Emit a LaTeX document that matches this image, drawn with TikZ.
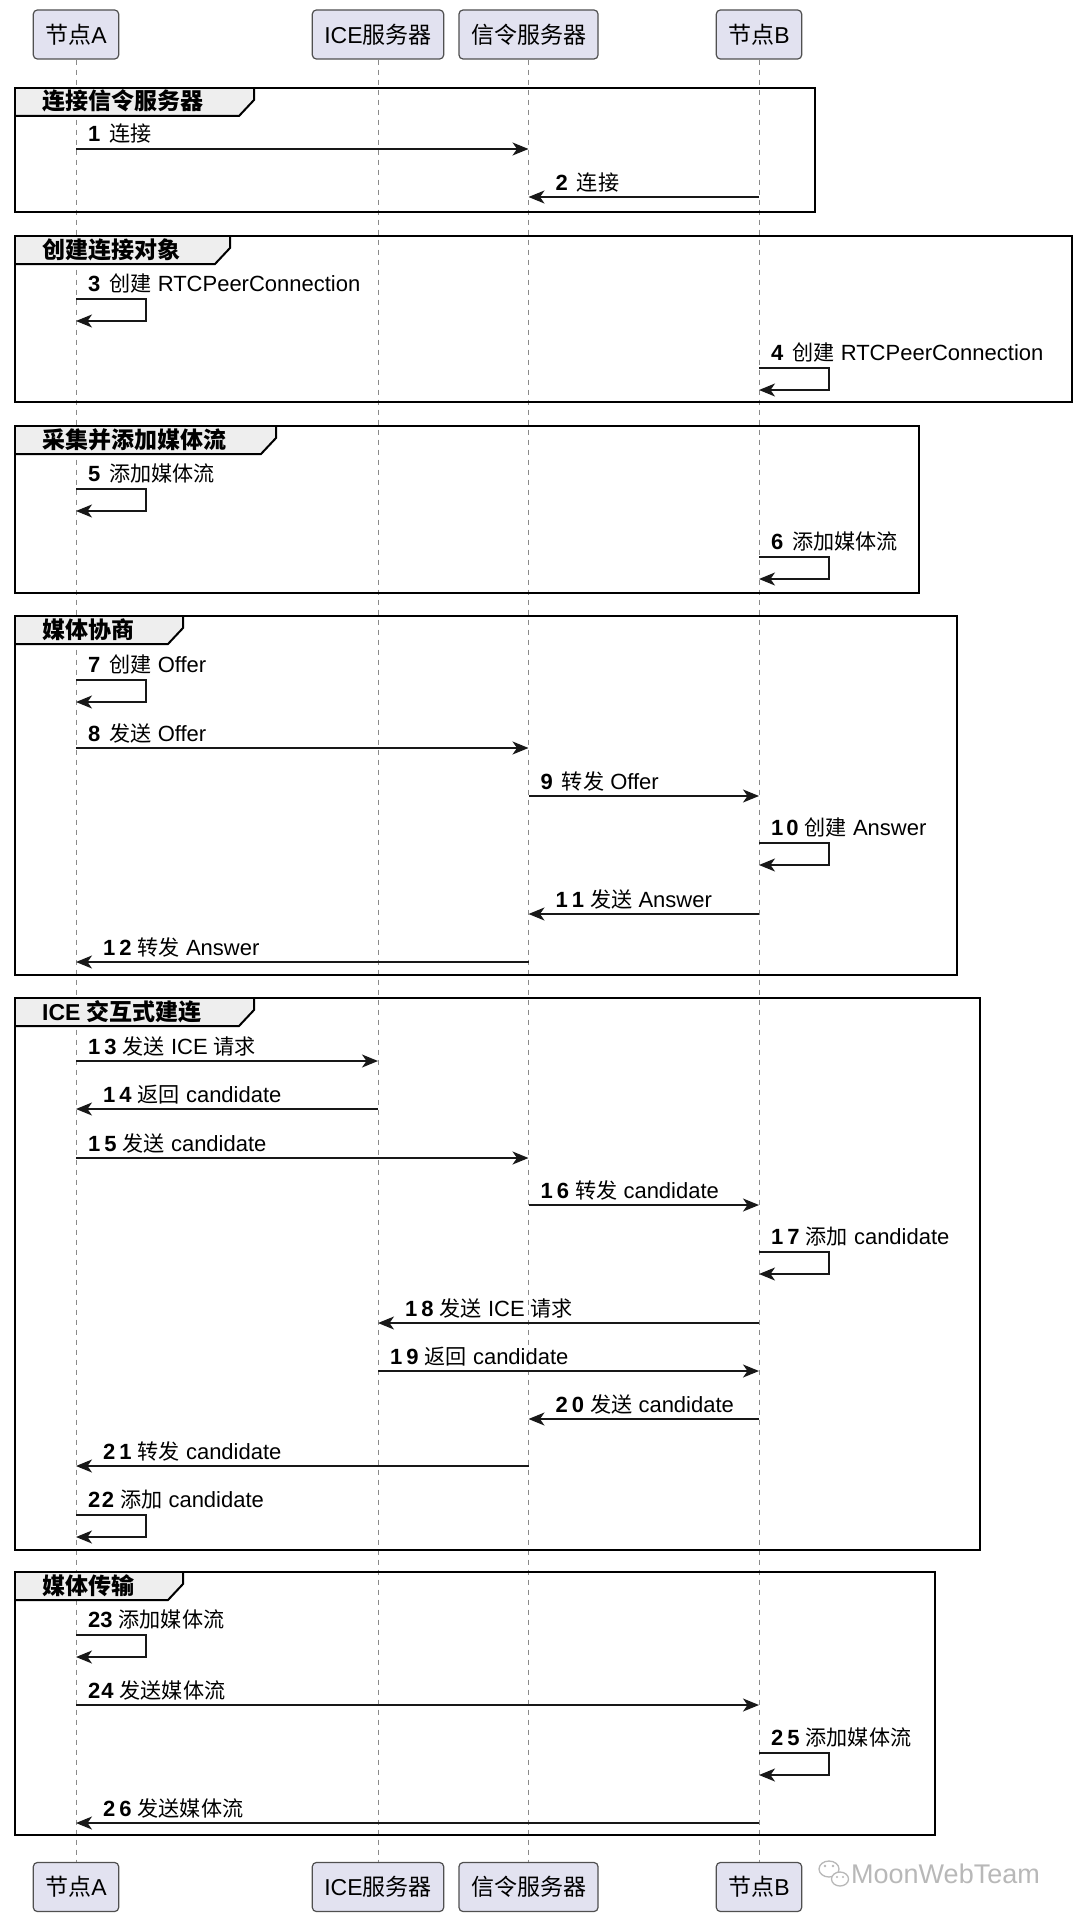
\documentclass[tikz,border=0pt]{standalone}
\usepackage{fontspec}
\setmainfont{Liberation Sans}
\newfontfamily\cjk{Noto Sans CJK SC}
\newfontfamily\cjkm[Scale=0.96]{Noto Sans CJK SC}
\usetikzlibrary{arrows.meta}
\definecolor{partfill}{HTML}{E2E2F0}
\definecolor{ink}{HTML}{181818}
\definecolor{partline}{HTML}{505050}
\definecolor{hdrfill}{HTML}{EEEEEE}
\definecolor{life}{HTML}{8A8A8A}
\definecolor{wm}{HTML}{B8B8B8}
\newcommand\C[1]{{\cjk #1}}
\newcommand\M[1]{{\cjkm #1}}
\newcommand\N[1]{\textbf{#1}\hspace{9pt}}
\newcommand\NN[3]{\textbf{#1\hspace{#3}#2}\hspace{6pt}}
% name, from, to, y, label  (label near the start)
\newcommand\msgR[5]{\draw[msgline] (#2 |- 0,#4) -- (#3 |- 0,#4);
  \node[lbl,xshift=12pt,yshift=7pt] (#1) at (#2 |- 0,#4) {#5};}
% name, from, to, y, label  (label near the arrow head)
\newcommand\msgL[5]{\draw[msgline] (#2 |- 0,#4) -- (#3 |- 0,#4);
  \node[lbl,xshift=27pt,yshift=7pt] (#1) at (#3 |- 0,#4) {#5};}
% name, lifeline node, top y, label
\newcommand\selfm[4]{\draw[msgline] (#2 |- 0,#3) -- ++(70,0) -- ++(0,22) -- ++(-70,0);
  \node[lbl,xshift=12pt,yshift=8pt] (#1) at (#2 |- 0,#3) {#4};}
% name, top, bottom, right, header right, text
\newcommand\frm[6]{%
  \fill[hdrfill] (15,#2) -- (#5,#2) -- (#5,{#2+12}) -- ({#5-15},{#2+28}) -- (15,{#2+28}) -- cycle;
  \draw[hdrline] (15,{#2+28}) -- ({#5-15},{#2+28}) -- (#5,{#2+12}) -- (#5,#2);
  \draw[frameline] (15,#2) rectangle (#4,#3);
  \node[hdrtext] (#1) at (42,{#2+22}) {#6};}
\begin{document}
\begin{tikzpicture}[x=1pt,y=-1pt,
  part/.style={draw=partline,fill=partfill,rounded corners=4pt,line width=1.2pt,
    minimum height=49pt,inner xsep=12pt,inner ysep=0pt,font=\fontsize{23}{26}\selectfont,text=black},
  lifeline/.style={draw=life,line width=1pt,dash pattern=on 5pt off 5pt},
  msgline/.style={draw=ink,line width=1.5pt,-{Stealth[length=16pt,width=13pt,inset=4.5pt]}},
  lbl/.style={anchor=base west,inner sep=0pt,font=\fontsize{22}{26}\selectfont,text=black},
  frameline/.style={draw=black,line width=2.5pt},
  hdrline/.style={draw=black,line width=2pt},
  hdrtext/.style={anchor=base west,inner sep=0pt,font=\bfseries\fontsize{23}{26}\selectfont,text=black},
  wmtext/.style={anchor=west,inner sep=0pt,font=\fontsize{27}{30}\selectfont,text=wm}]
\fill[white] (0,0) rectangle (1080,1921);
\useasboundingbox (0,0) rectangle (1080,1921);

% participants
\node[part] (pA) at (76,34.5) {\C{节点}A};
\node[part] (pI) at (378,34.5) {ICE\C{服务器}};
\node[part] (pS) at (528.5,34.5) {\C{信令服务器}};
\node[part] (pB) at (759,34.5) {\C{节点}B};
\node[part] (qA) at (76,1887) {\C{节点}A};
\node[part] (qI) at (378,1887) {ICE\C{服务器}};
\node[part] (qS) at (528.5,1887) {\C{信令服务器}};
\node[part] (qB) at (759,1887) {\C{节点}B};

% lifelines
\draw[lifeline] (pA.south) -- (qA.north);
\draw[lifeline] (pI.south) -- (qI.north);
\draw[lifeline] (pS.south) -- (qS.north);
\draw[lifeline] (pB.south) -- (qB.north);

% frames
\frm{f1}{88}{212}{815}{254}{\C{连接信令服务器}}
\frm{f2}{236}{402}{1072}{230}{\C{创建连接对象}}
\frm{f3}{426}{593}{919}{276}{\C{采集并添加媒体流}}
\frm{f4}{616}{975}{957}{183}{\C{媒体协商}}
\frm{f5}{998}{1550}{980}{254}{ICE \C{交互式建连}}
\frm{f6}{1572}{1835}{935}{183}{\C{媒体传输}}

% messages
\msgR{m1}{pA}{pS}{149}{\N{1}\M{连接}}
\msgL{m2}{pB}{pS}{197}{\N{2}\M{连接}}
\selfm{m3}{pA}{299}{\N{3}\M{创建} RTCPeerConnection}
\selfm{m4}{pB}{368}{\N{4}\M{创建} RTCPeerConnection}
\selfm{m5}{pA}{489}{\N{5}\M{添加媒体流}}
\selfm{m6}{pB}{557}{\N{6}\M{添加媒体流}}
\selfm{m7}{pA}{680}{\N{7}\M{创建} Offer}
\msgR{m8}{pA}{pS}{748}{\N{8}\M{发送} Offer}
\msgR{m9}{pS}{pB}{796}{\N{9}\M{转发} Offer}
\selfm{m10}{pB}{843}{\NN{1}{0}{3pt}\M{创建} Answer}
\msgL{m11}{pB}{pS}{914}{\NN{1}{1}{4pt}\M{发送} Answer}
\msgL{m12}{pS}{pA}{962}{\NN{1}{2}{4pt}\M{转发} Answer}
\msgR{m13}{pA}{pI}{1061}{\NN{1}{3}{4pt}\M{发送} ICE \M{请求}}
\msgL{m14}{pI}{pA}{1109}{\NN{1}{4}{4pt}\M{返回} candidate}
\msgR{m15}{pA}{pS}{1158}{\NN{1}{5}{4pt}\M{发送} candidate}
\msgR{m16}{pS}{pB}{1205}{\NN{1}{6}{4pt}\M{转发} candidate}
\selfm{m17}{pB}{1252}{\NN{1}{7}{4pt}\M{添加} candidate}
\msgL{m18}{pB}{pI}{1323}{\NN{1}{8}{4pt}\M{发送} ICE \M{请求}}
\msgR{m19}{pI}{pB}{1371}{\NN{1}{9}{4pt}\M{返回} candidate}
\msgL{m20}{pB}{pS}{1419}{\NN{2}{0}{4pt}\M{发送} candidate}
\msgL{m21}{pS}{pA}{1466}{\NN{2}{1}{4pt}\M{转发} candidate}
\selfm{m22}{pA}{1515}{\NN{2}{2}{1.5pt}\M{添加} candidate}
\selfm{m23}{pA}{1635}{\NN{2}{3}{0pt}\M{添加媒体流}}
\msgR{m24}{pA}{pB}{1705}{\NN{2}{4}{1pt}\M{发送媒体流}}
\selfm{m25}{pB}{1753}{\NN{2}{5}{4pt}\M{添加媒体流}}
\msgL{m26}{pB}{pA}{1823}{\NN{2}{6}{4pt}\M{发送媒体流}}

% watermark
\draw[wm,line width=1.3pt] (829,1869) ellipse [x radius=10, y radius=8];
\draw[wm,line width=1.3pt,fill=white] (840,1879) ellipse [x radius=8.5, y radius=7];
\fill[wm] (825,1866) circle (1.3) (833,1866) circle (1.3);
\fill[wm] (837,1877) circle (1.1) (843,1877) circle (1.1);
\node[wmtext] (wmk) at (851,1874) {MoonWebTeam};
\end{tikzpicture}
\end{document}
